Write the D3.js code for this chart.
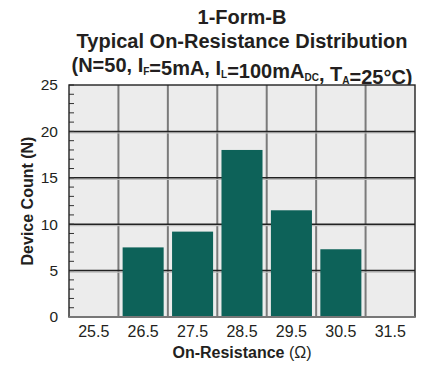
<!DOCTYPE html>
<html>
<head>
<meta charset="utf-8">
<script src="https://cdn.jsdelivr.net/npm/d3@7"></script>
<style>
  body { margin: 0; background: #fff; }
  text { font-family: "Liberation Sans", Arial, sans-serif; fill: #231f20; }
</style>
</head>
<body>
<div id="chart"></div>
<script>
// bin centres (ohms) and device counts
var categories = ["25.5", "26.5", "27.5", "28.5", "29.5", "30.5", "31.5"];
var counts = [0, 7.5, 9.2, 18, 11.5, 7.3, 0];
var yTicks = [0, 5, 10, 15, 20, 25];
var yMinor = d3.range(0, 26, 1);

function draw() {
    var w = 428, h = 367;
    var margin = { top: 85, right: 13, bottom: 50, left: 69 };
    var iw = w - margin.left - margin.right;
    var ih = h - margin.top - margin.bottom;

    var svg = d3.select("#chart").append("svg")
        .attr("width", w)
        .attr("height", h);

    // title, three lines
    var title = svg.append("g")
        .attr("font-weight", "bold")
        .attr("font-size", 20)
        .attr("text-anchor", "middle");
    title.append("text").attr("x", 242).attr("y", 24).text("1-Form-B");
    title.append("text").attr("x", 242).attr("y", 48).text("Typical On-Resistance Distribution");
    var t3 = title.append("text").attr("x", 242).attr("y", 72);
    function part(txt) { t3.append("tspan").text(txt); }
    function sub(txt) {
        t3.append("tspan").attr("font-size", 10).attr("dy", 3).text(txt);
        t3.append("tspan").attr("dy", -3).text("");
    }
    part("(N=50, I"); sub("F"); part("=5mA, I"); sub("L");
    part("=100mA"); sub("DC"); part(", T"); sub("A"); part("=25\u00B0C)");

    var g = svg.append("g")
        .attr("transform", "translate(" + margin.left + "," + margin.top + ")");

    var x = d3.scaleBand()
        .domain(categories)
        .range([0, iw])
        .paddingInner(0.17)
        .paddingOuter(0.085);
    var col = d3.scaleBand().domain(categories).range([0, iw]);

    var y = d3.scaleLinear().domain([0, 25]).range([ih, 0]);

    // plot background
    g.append("rect")
        .attr("width", iw).attr("height", ih)
        .attr("fill", "#ececec");

    // vertical grid between bins
    g.append("g").selectAll("line")
        .data(categories.slice(1))
        .enter().append("line")
        .attr("x1", function(d) { return col(d); })
        .attr("x2", function(d) { return col(d); })
        .attr("y1", 0).attr("y2", ih)
        .attr("stroke", "#7a7a7a")
        .attr("stroke-width", 2);

    // horizontal grid
    var hg = g.append("g").selectAll("g")
        .data(yTicks.slice(1, -1))
        .enter().append("g");
    hg.append("line")
        .attr("x1", 0).attr("x2", iw)
        .attr("y1", function(d) { return y(d) + 1.5; })
        .attr("y2", function(d) { return y(d) + 1.5; })
        .attr("stroke", "#bdbdbd").attr("stroke-width", 1.2);
    hg.append("line")
        .attr("x1", 0).attr("x2", iw)
        .attr("y1", function(d) { return y(d); })
        .attr("y2", function(d) { return y(d); })
        .attr("stroke", "#222").attr("stroke-width", 1.5);

    // bars
    g.append("g").selectAll("rect")
        .data(counts)
        .enter().append("rect")
        .attr("x", function(d, i) { return x(categories[i]); })
        .attr("y", function(d) { return y(d); })
        .attr("width", x.bandwidth())
        .attr("height", function(d) { return ih - y(d); })
        .attr("fill", "#0d6259");

    // minor ticks inside the left edge
    g.append("g").selectAll("line")
        .data(yMinor)
        .enter().append("line")
        .attr("x1", 0).attr("x2", 5)
        .attr("y1", function(d) { return y(d); })
        .attr("y2", function(d) { return y(d); })
        .attr("stroke", "#333").attr("stroke-width", 1);

    // frame
    g.append("rect")
        .attr("width", iw).attr("height", ih)
        .attr("fill", "none")
        .attr("stroke", "#222").attr("stroke-width", 1.4);
    g.append("line")
        .attr("x1", 0).attr("x2", iw).attr("y1", ih).attr("y2", ih)
        .attr("stroke", "#777").attr("stroke-width", 2);

    // y axis labels
    var yAxis = d3.axisLeft(y).tickValues(yTicks).tickSize(0).tickPadding(11);
    var ya = g.append("g").call(yAxis);
    ya.select(".domain").remove();
    ya.selectAll("text")
        .attr("font-size", 15.5)
        .attr("font-family", "Liberation Sans, Arial, sans-serif")
        .attr("fill", "#231f20");

    // x axis labels
    var xAxis = d3.axisBottom(col).tickSize(0).tickPadding(9);
    var xa = g.append("g").attr("transform", "translate(0," + ih + ")").call(xAxis);
    xa.select(".domain").remove();
    xa.selectAll("text")
        .attr("font-size", 16)
        .attr("font-family", "Liberation Sans, Arial, sans-serif")
        .attr("fill", "#231f20");

    // axis titles
    var xt = svg.append("text")
        .attr("x", margin.left + iw / 2).attr("y", 358)
        .attr("text-anchor", "middle")
        .attr("font-size", 16);
    xt.append("tspan").attr("font-weight", "bold").text("On-Resistance ");
    xt.append("tspan").text("(\u03A9)");

    svg.append("text")
        .attr("transform", "translate(33," + (margin.top + ih / 2) + ") rotate(-90)")
        .attr("text-anchor", "middle")
        .attr("font-weight", "bold")
        .attr("font-size", 16)
        .text("Device Count (N)");
}

window.onload = draw;
</script>
</body>
</html>
